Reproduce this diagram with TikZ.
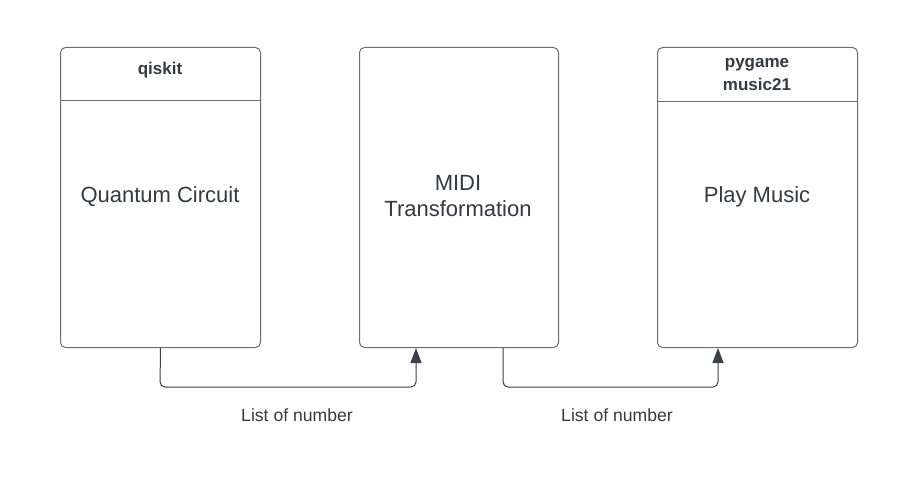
\documentclass[tikz,border=0pt]{standalone}
\usepackage{fontspec}
\setmainfont{Liberation Sans}
\usetikzlibrary{arrows.meta}
\definecolor{boxline}{HTML}{6B6E74}
\definecolor{txt}{HTML}{333A45}
\definecolor{conn}{HTML}{3A414A}
\begin{document}
\begin{tikzpicture}[x=1pt,y=-1pt,
  panel/.style={draw=boxline,line width=1pt,rounded corners=5pt},
  divider/.style={draw=boxline,line width=1pt},
  maintext/.style={text=txt,font=\fontsize{22}{26}\selectfont,align=center},
  headtext/.style={text=txt,font=\bfseries\fontsize{17}{23}\selectfont,align=center},
  lbl/.style={text=txt,font=\fontsize{17.6}{20}\selectfont},
  flow/.style={draw=conn,line width=1pt,rounded corners=5pt,-{Triangle[length=15pt,width=11pt]}}]
\useasboundingbox (0,0) rectangle (897,487);
\fill[white] (0,0) rectangle (897,487);
% boxes
\node[panel,minimum width=200pt,minimum height=300pt,anchor=north west] (b1) at (60,47) {};
\node[panel,minimum width=199pt,minimum height=300pt,anchor=north west] (b2) at (359,47) {};
\node[panel,minimum width=200pt,minimum height=300pt,anchor=north west] (b3) at (657,47) {};
\draw[divider] (b1.west |- 0,100) -- (b1.east |- 0,100);
\draw[divider] (b3.west |- 0,101) -- (b3.east |- 0,101);
\node[headtext] (h1) at (160,70) {qiskit};
\node[headtext] (h3) at (757,74.5) {pygame\\music21};
\node[maintext] (t1) at (160,196.5) {Quantum Circuit};
\node[maintext] (t2) at (458,196.5) {MIDI\\Transformation};
\node[maintext] (t3) at (757,196.5) {Play Music};
% connectors
\coordinate (c1) at (160,387);
\coordinate (c2) at (416,387);
\coordinate (c3) at (503,387);
\coordinate (c4) at (718,387);
\draw[flow] (b1.south) -- (c1) -- (c2) -- (c2 |- b2.south);
\draw[flow] (c3 |- b2.south) -- (c3) -- (c4) -- (c4 |- b3.south);
\node[lbl] (l1) at (297,415) {List of number};
\node[lbl] (l2) at (617,415) {List of number};
\end{tikzpicture}
\end{document}
